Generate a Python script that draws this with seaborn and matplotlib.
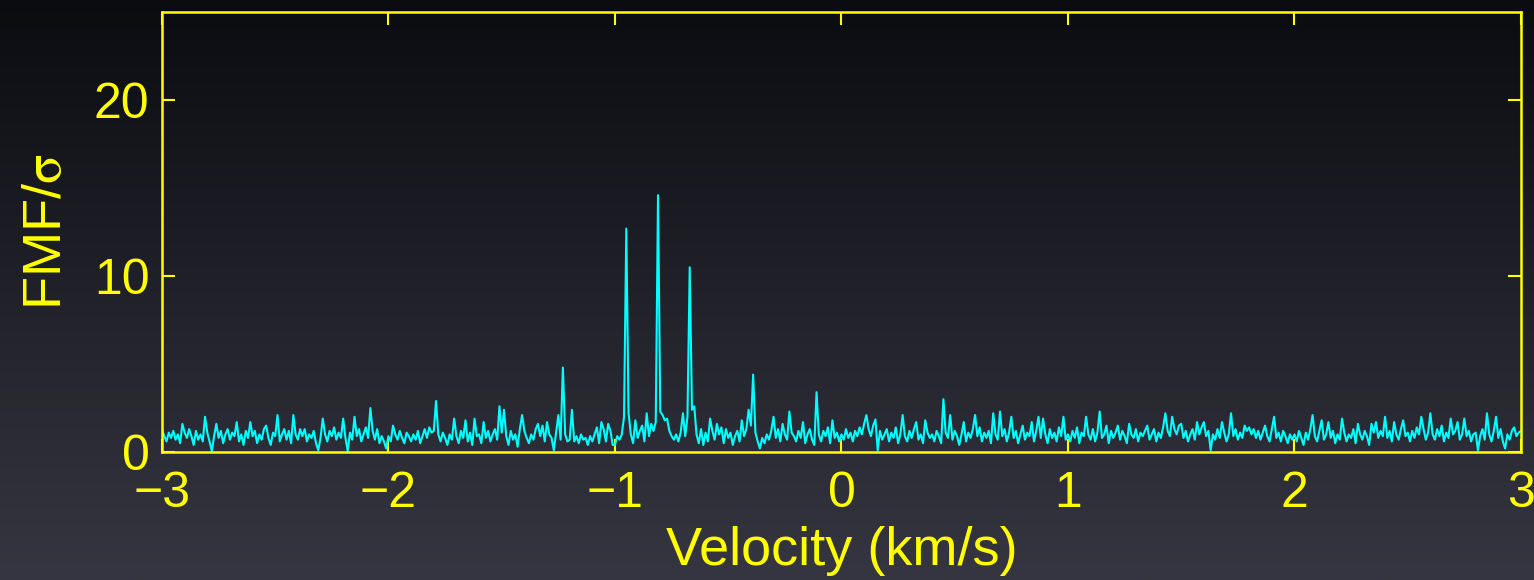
import numpy as np
import pandas as pd
import seaborn as sns
import matplotlib.pyplot as plt

# spectrum, one value every 0.01 km/s
flux_m3 = [
    1.3, 0.9, 0.6, 1.1, 0.8, 1.2, 0.7, 1.0, 0.5, 1.6, 1.1, 0.8, 1.3, 0.9, 0.4, 1.2, 0.7, 1.0, 0.6, 2.0,
    1.1, 0.6, 0.05, 0.9, 1.6, 0.8, 1.2, 0.5, 1.0, 1.3, 0.7, 1.1, 0.9, 1.7, 0.6, 1.0, 0.4, 1.2, 0.8, 1.7,
    0.9, 1.2, 0.5, 1.0, 0.7, 1.3, 1.5, 0.8, 0.4, 1.1, 0.9, 2.1, 0.6, 1.0, 1.3, 0.7, 1.2, 0.5, 2.1, 1.0,
    0.7, 1.3, 0.9, 1.3, 0.6, 1.0, 0.8, 1.2, 0.5, 0.1, 0.8, 1.9, 1.0, 0.6, 1.2, 0.9, 1.4, 0.7, 1.1, 0.8,
    1.9, 0.8, 0.05, 1.1, 0.7, 2.0, 0.9, 1.3, 0.6, 1.0, 1.4, 0.8, 2.5, 1.2, 0.7, 1.3, 0.5, 0.9, 0.6, 0.2,
]
flux_m2 = [
    0.9, 0.6, 1.5, 1.0, 0.7, 1.2, 0.8, 0.5, 1.1, 0.9, 0.6, 1.0, 0.7, 1.2, 0.5, 0.9, 1.3, 0.8, 1.4, 1.1,
    1.2, 2.9, 1.0, 0.6, 1.1, 0.8, 0.4, 1.0, 0.7, 1.9, 0.9, 0.5, 1.2, 0.8, 1.8, 0.6, 1.1, 0.4, 1.9, 0.9,
    1.0, 0.5, 1.7, 0.8, 1.2, 0.6, 1.0, 1.3, 0.7, 2.6, 1.1, 2.4, 0.9, 0.4, 1.2, 0.7, 1.0, 0.3, 1.3, 2.1,
    1.2, 0.8, 0.5, 1.0, 0.7, 1.3, 1.6, 0.9, 1.5, 0.6, 1.7, 1.0, 0.8, 0.1, 1.1, 2.1, 0.7, 4.8, 1.0, 0.6,
    0.7, 2.4, 0.6, 0.9, 0.5, 1.0, 0.7, 0.8, 0.4, 0.9, 0.6, 1.0, 1.4, 0.5, 1.7, 1.3, 0.6, 1.6, 1.2, 0.4,
]
flux_m1 = [
    0.4, 0.9, 0.7, 1.0, 2.0, 12.7, 2.2, 1.0, 0.5, 1.8, 0.8, 1.2, 1.5, 0.6, 2.2, 0.9, 1.6, 1.2, 1.7, 14.6,
    2.3, 2.1, 1.8, 1.9, 1.2, 0.9, 0.7, 1.0, 0.6, 1.1, 2.2, 0.9, 2.0, 10.5, 2.4, 2.6, 1.0, 0.5, 1.3, 0.4,
    1.1, 0.6, 1.9, 1.2, 0.7, 1.6, 1.0, 1.4, 0.5, 1.3, 0.8, 1.1, 0.4, 0.9, 1.2, 0.6, 1.8, 0.9, 1.3, 2.4,
    1.5, 4.4, 1.1, 0.6, 0.2, 0.8, 0.5, 1.0, 0.7, 1.2, 2.0, 0.8, 1.3, 0.6, 1.6, 1.0, 0.7, 2.3, 1.1, 0.9,
    0.6, 1.2, 0.8, 1.7, 0.5, 1.0, 1.3, 0.7, 0.4, 3.4, 1.0, 0.6, 1.2, 0.9, 1.4, 0.5, 1.8, 0.8, 1.1, 0.6,
]
flux_p0 = [
    1.0, 0.7, 1.3, 0.8, 1.1, 0.6, 1.2, 0.9, 1.4, 1.0, 1.6, 2.1, 1.3, 0.9, 1.5, 1.85, 0.1, 1.2, 0.7, 1.0,
    1.3, 0.6, 1.1, 0.8, 1.4, 0.5, 1.0, 2.1, 0.9, 0.6, 1.2, 0.8, 1.3, 1.7, 0.7, 1.0, 0.5, 1.8, 1.1, 0.8,
    1.0, 0.6, 1.2, 0.9, 0.5, 3.0, 1.1, 0.8, 2.1, 0.7, 1.2, 0.9, 0.4, 1.0, 1.7, 0.6, 1.1, 0.8, 1.3, 2.1,
    0.9, 1.4, 0.6, 1.1, 0.8, 1.2, 0.5, 2.2, 1.0, 0.7, 2.3, 0.9, 1.3, 0.6, 1.1, 2.0, 0.8, 1.2, 0.5, 1.0,
    1.5, 0.7, 1.1, 0.9, 1.7, 0.6, 1.2, 2.0, 0.8, 1.9, 1.0, 0.5, 1.3, 0.8, 1.1, 0.6, 1.4, 0.9, 2.0, 0.7,
]
flux_p1 = [
    1.0, 0.6, 1.2, 0.8, 1.4, 0.5, 1.1, 0.9, 2.0, 1.0, 0.7, 1.3, 0.6, 1.1, 2.3, 0.8, 1.0, 1.5, 0.5, 1.2,
    0.8, 1.1, 1.5, 0.7, 1.2, 0.9, 0.5, 1.6, 1.0, 0.8, 1.3, 0.6, 1.1, 0.9, 1.2, 1.5, 0.7, 1.0, 1.3, 0.6,
    1.1, 0.8, 1.4, 2.2, 1.2, 0.9, 2.0, 1.3, 1.0, 1.5, 1.6, 0.8, 1.2, 0.6, 1.0, 1.3, 0.7, 1.7, 1.0, 1.4,
    1.7, 0.9, 1.2, 0.1, 1.0, 0.7, 1.3, 0.8, 1.7, 1.1, 0.6, 1.0, 2.2, 0.9, 1.3, 0.7, 1.1, 0.8, 1.5, 1.2,
    1.4, 1.0, 1.3, 0.8, 1.2, 0.7, 1.1, 1.5, 0.9, 0.6, 1.3, 2.0, 0.8, 1.1, 0.6, 1.2, 0.9, 0.5, 1.0, 0.7,
]
flux_p2 = [
    1.0, 0.6, 1.2, 0.8, 0.4, 1.1, 0.7, 1.3, 2.1, 0.9, 0.6, 1.2, 1.8, 0.7, 1.0, 1.7, 0.8, 1.2, 0.5, 1.0,
    0.7, 1.9, 1.1, 0.6, 1.0, 0.8, 1.3, 0.5, 1.6, 1.0, 0.7, 1.2, 0.9, 0.4, 1.6, 1.1, 1.7, 0.8, 1.2, 0.9,
    2.0, 0.8, 1.2, 0.6, 1.7, 1.0, 0.7, 1.3, 1.8, 0.9, 1.1, 0.6, 1.2, 0.8, 1.4, 1.0, 2.0, 1.3, 0.7, 1.1,
    2.2, 1.0, 0.7, 1.3, 0.9, 1.5, 0.6, 1.1, 0.8, 1.9, 1.0, 1.2, 1.7, 0.7, 1.0, 1.9, 0.9, 1.2, 0.6, 1.0,
    1.1, 0.1, 0.9, 1.3, 0.7, 2.2, 1.0, 0.6, 1.2, 2.0, 0.8, 1.3, 0.6, 0.2, 1.0, 0.7, 1.2, 1.4, 0.9, 1.1,
    1.2,
]

x_ticks = [-3, -2, -1, 0, 1, 2, 3]
y_ticks = [0, 10, 20]

flux = flux_m3 + flux_m2 + flux_m1 + flux_p0 + flux_p1 + flux_p2
velocity = np.round(np.linspace(-3, 3, len(flux)), 2)
df = pd.DataFrame({"velocity": velocity, "flux": flux})

yellow = "#ffff00"
plt.rcParams["font.family"] = ["Liberation Sans", "DejaVu Sans"]
plt.rcParams["mathtext.fontset"] = "stix"

fig = plt.figure(figsize=(15.34, 5.8), dpi=100)

# dark vertical gradient behind everything
bg = fig.add_axes([0, 0, 1, 1], zorder=-1)
grad = np.linspace(0, 1, 256)[:, None]
top = np.array([11, 12, 16]) / 255
bottom = np.array([54, 54, 66]) / 255
img = top + (bottom - top) * grad[..., None]
bg.imshow(img, aspect="auto", extent=[0, 1, 0, 1])
bg.axis("off")

ax = fig.add_axes([0.1056, 0.2207, 0.8859, 0.7583])
ax.set_facecolor("none")
sns.lineplot(data=df, x="velocity", y="flux", ax=ax, color="#00ffff",
             linewidth=1.5, estimator=None)

ax.set_xlim(-3, 3)
ax.set_ylim(0, 25)
ax.set_xticks(x_ticks)
ax.set_yticks(y_ticks)
ax.set_xlabel("Velocity (km/s)", fontsize=39, color=yellow, labelpad=6)
ax.set_ylabel("FMF/$\\mathrm{\\sigma}$", fontsize=39, color=yellow, labelpad=16)
ax.tick_params(direction="in", length=9.5, width=1.5, colors=yellow,
               labelsize=36, top=True, right=True)
ax.tick_params(axis="x", pad=14)
ax.tick_params(axis="y", pad=9)
for s in ax.spines.values():
    s.set_color(yellow)
    s.set_linewidth(1.8)

fig.savefig("out.png", dpi=100)
